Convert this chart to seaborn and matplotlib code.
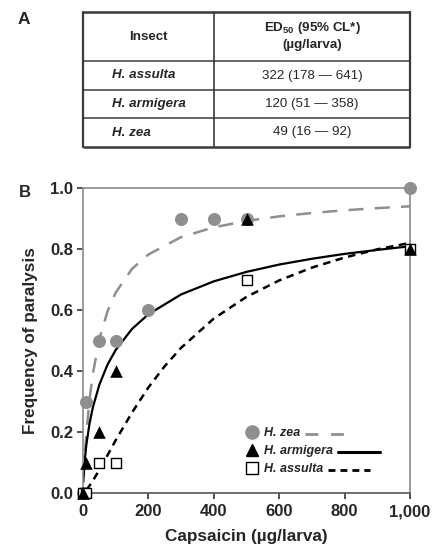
import matplotlib
matplotlib.use("Agg")
import matplotlib.pyplot as plt
from matplotlib.lines import Line2D
import seaborn as sns
import pandas as pd

# ---------------- data ----------------
# observed points
zea_dose = [0, 10, 50, 100, 200, 300, 400, 500, 1000]
zea_freq = [0.0, 0.3, 0.5, 0.5, 0.6, 0.9, 0.9, 0.9, 1.0]
arm_dose = [0, 10, 50, 100, 500, 1000]
arm_freq = [0.0, 0.1, 0.2, 0.4, 0.9, 0.8]
ass_dose = [0, 10, 50, 100, 500, 1000]
ass_freq = [0.0, 0.0, 0.1, 0.1, 0.7, 0.8]

# fitted curves
zea_curve_x = [2, 5, 10, 20, 30, 50, 75, 100, 150, 200, 300, 400, 500, 600, 700, 800, 900, 1000]
zea_curve_y = [0.052, 0.111, 0.191, 0.307, 0.390, 0.505, 0.596, 0.657, 0.735, 0.782, 0.839,
               0.871, 0.892, 0.907, 0.918, 0.927, 0.934, 0.940]
arm_curve_x = [1, 2, 5, 10, 20, 30, 50, 75, 100, 150, 200, 300, 400, 500, 600, 700, 800, 900, 1000]
arm_curve_y = [0.037, 0.058, 0.103, 0.156, 0.228, 0.280, 0.355, 0.421, 0.469, 0.538, 0.586,
               0.651, 0.694, 0.725, 0.749, 0.768, 0.784, 0.797, 0.809]
ass_curve_x = [10, 20, 30, 50, 75, 100, 150, 200, 250, 300, 400, 500, 600, 700, 800, 900, 1000]
ass_curve_y = [0.010, 0.024, 0.040, 0.076, 0.124, 0.173, 0.264, 0.346, 0.416, 0.476, 0.572,
               0.643, 0.697, 0.739, 0.772, 0.799, 0.820]

legend_labels = ["H. zea", "H. armigera", "H. assulta"]

# table
table_header = ["Insect", "ED$_{50}$ (95% CL*)", "(\u00b5g/larva)"]
table_insects = ["H. assulta", "H. armigera", "H. zea"]
table_ed50 = ["322 (178 \u2014 641)", "120 (51 \u2014 358)", "49 (16 \u2014 92)"]

x_ticks = [0, 200, 400, 600, 800, 1000]
x_ticklabels = ["0", "200", "400", "600", "800", "1,000"]
y_ticks = [0.0, 0.2, 0.4, 0.6, 0.8, 1.0]
y_ticklabels = ["0.0", "0.2", "0.4", "0.6", "0.8", "1.0"]

# ---------------- style ----------------
sns.set_style("ticks")
plt.rcParams["font.family"] = ["Liberation Sans", "DejaVu Sans"]
plt.rcParams["mathtext.fontset"] = "custom"
plt.rcParams["mathtext.rm"] = "Liberation Sans:bold"
plt.rcParams["mathtext.bf"] = "Liberation Sans:bold"

W, H = 434, 547
fig = plt.figure(figsize=(W / 100, H / 100), dpi=100)

def fx(px):
    return px / W

def fy(py):
    return 1 - py / H

GREY = "#8f8f8f"
TXT = "#262626"

# ---------------- panel B ----------------
ax = fig.add_axes([fx(83), fy(493), fx(410) - fx(83), fy(188) - fy(493)])

curves = pd.concat([
    pd.DataFrame({"dose": zea_curve_x, "freq": zea_curve_y, "sp": "zea"}),
    pd.DataFrame({"dose": arm_curve_x, "freq": arm_curve_y, "sp": "arm"}),
    pd.DataFrame({"dose": ass_curve_x, "freq": ass_curve_y, "sp": "ass"}),
])
pts = pd.concat([
    pd.DataFrame({"dose": zea_dose, "freq": zea_freq, "sp": "zea"}),
    pd.DataFrame({"dose": arm_dose, "freq": arm_freq, "sp": "arm"}),
    pd.DataFrame({"dose": ass_dose, "freq": ass_freq, "sp": "ass"}),
])

line_styles = {
    "zea": dict(color=GREY, lw=1.8, ls=(0, (6, 4.5))),
    "arm": dict(color="black", lw=1.6, ls="-"),
    "ass": dict(color="black", lw=1.8, ls=(0, (3.0, 2.2))),
}
for sp in ["zea", "arm", "ass"]:
    st = line_styles[sp]
    d = curves[curves.sp == sp]
    sns.lineplot(data=d, x="dose", y="freq", ax=ax, color=st["color"],
                 linewidth=st["lw"], linestyle=st["ls"], errorbar=None,
                 sort=False, zorder=2)

d = pts[pts.sp == "zea"]
sns.scatterplot(data=d, x="dose", y="freq", ax=ax, marker="o", s=88,
                color=GREY, edgecolor=GREY, linewidth=0, clip_on=False, zorder=3)
d = pts[pts.sp == "ass"]
sns.scatterplot(data=d, x="dose", y="freq", ax=ax, marker="s", s=62,
                color="white", edgecolor="black", linewidth=1.0, clip_on=False, zorder=4)
d = pts[pts.sp == "arm"]
sns.scatterplot(data=d, x="dose", y="freq", ax=ax, marker="^", s=82,
                color="black", edgecolor="black", linewidth=0, clip_on=False, zorder=5)

ax.set_xlim(0, 1000)
ax.set_ylim(0, 1.0)
ax.set_xticks(x_ticks)
ax.set_xticklabels(x_ticklabels)
ax.set_yticks(y_ticks)
ax.set_yticklabels(y_ticklabels)
for lab in ax.get_xticklabels() + ax.get_yticklabels():
    lab.set_fontweight("bold")
    lab.set_fontsize(12)
    lab.set_color(TXT)
ax.tick_params(axis="both", direction="out", length=4, width=1.2, color="#333333", pad=3)
ax.tick_params(axis="x", pad=4)
ax.set_xlabel("Capsaicin (\u00b5g/larva)", fontsize=12.3, fontweight="bold", color=TXT, labelpad=7)
ax.set_ylabel("Frequency of paralysis", fontsize=12.3, fontweight="bold", color=TXT, labelpad=9)
for side in ["top", "right", "left"]:
    ax.spines[side].set_visible(True)
    ax.spines[side].set_color("#8a8a8a")
    ax.spines[side].set_linewidth(1.2)
ax.spines["bottom"].set_color("#555555")
ax.spines["bottom"].set_linewidth(1.2)

# legend: marker, label, then line sample
handles = [
    Line2D([], [], marker="o", color=GREY, markeredgecolor=GREY, ls="none", markersize=9.5),
    Line2D([], [], marker="^", color="black", ls="none", markersize=9),
    Line2D([], [], marker="s", color="white", markeredgecolor="black", ls="none", markersize=8.5),
]
leg = ax.legend(handles, legend_labels, loc="upper left",
                bbox_to_anchor=(fx(246), fy(427)), bbox_transform=fig.transFigure,
                frameon=False, handlelength=1.0, handletextpad=0.45, labelspacing=0.5,
                borderpad=0, borderaxespad=0, prop=dict(size=9, weight="bold", style="italic"))
for t in leg.get_texts():
    t.set_color(TXT)

fig.canvas.draw()
renderer = fig.canvas.get_renderer()
leg_line_styles = [
    dict(color=GREY, lw=2.0, ls=(0, (4.6, 4.6))),
    dict(color="black", lw=2.2, ls="-"),
    dict(color="black", lw=2.0, ls=(0, (2.5, 1.8))),
]
for t, st in zip(leg.get_texts(), leg_line_styles):
    bb = t.get_window_extent(renderer)
    yc = bb.y0 + bb.height * 0.45
    x0 = bb.x1 + 5
    x1 = x0 + 42
    ln = Line2D([x0 / W, x1 / W], [yc / H, yc / H], transform=fig.transFigure,
                color=st["color"], lw=st["lw"], ls=st["ls"])
    fig.add_artist(ln)

# ---------------- panel A (table) ----------------
tab = fig.add_axes([fx(83), fy(147), fx(410) - fx(83), fy(12) - fy(147)])
tab.set_xlim(0, 1)
tab.set_ylim(0, 1)
tab.axis("off")
row_edges = [1.0, 1 - 49 / 135, 1 - 78 / 135, 1 - 106 / 135, 0.0]
col_split = (214 - 83) / 327
LC = "#3a3a3a"
for i, yv in enumerate(row_edges):
    lw = 1.8 if i in (0, 4) else 1.1
    tab.plot([0, 1], [yv, yv], color=LC, lw=lw, solid_capstyle="butt", clip_on=False)
for xv in [0, col_split, 1]:
    tab.plot([xv, xv], [0, 1], color=LC, lw=1.2 if xv == col_split else 1.6, clip_on=False)

TFS = 9.6
c1 = col_split / 2
c2 = (col_split + 1) / 2
hy = (row_edges[0] + row_edges[1]) / 2
tab.text(c1, hy, table_header[0], ha="center", va="center", fontsize=TFS,
         fontweight="bold", color=TXT)
tab.text(c2, hy + 0.065, table_header[1], ha="center", va="center", fontsize=TFS,
         fontweight="bold", color=TXT)
tab.text(c2, hy - 0.065, table_header[2], ha="center", va="center", fontsize=TFS,
         fontweight="bold", color=TXT)
for i, (ins, val) in enumerate(zip(table_insects, table_ed50)):
    yc = (row_edges[i + 1] + row_edges[i + 2]) / 2
    tab.text((112 - 83) / 327, yc, ins, ha="left", va="center", fontsize=TFS,
             fontweight="bold", fontstyle="italic", color=TXT)
    tab.text(c2, yc, val, ha="center", va="center", fontsize=TFS, color=TXT)

fig.text(fx(24), fy(20), "A", fontsize=12.5, fontweight="bold", color=TXT, ha="center", va="center")
fig.text(fx(25), fy(193), "B", fontsize=12, fontweight="bold", color=TXT, ha="center", va="center")

fig.savefig("out.png", dpi=100)
